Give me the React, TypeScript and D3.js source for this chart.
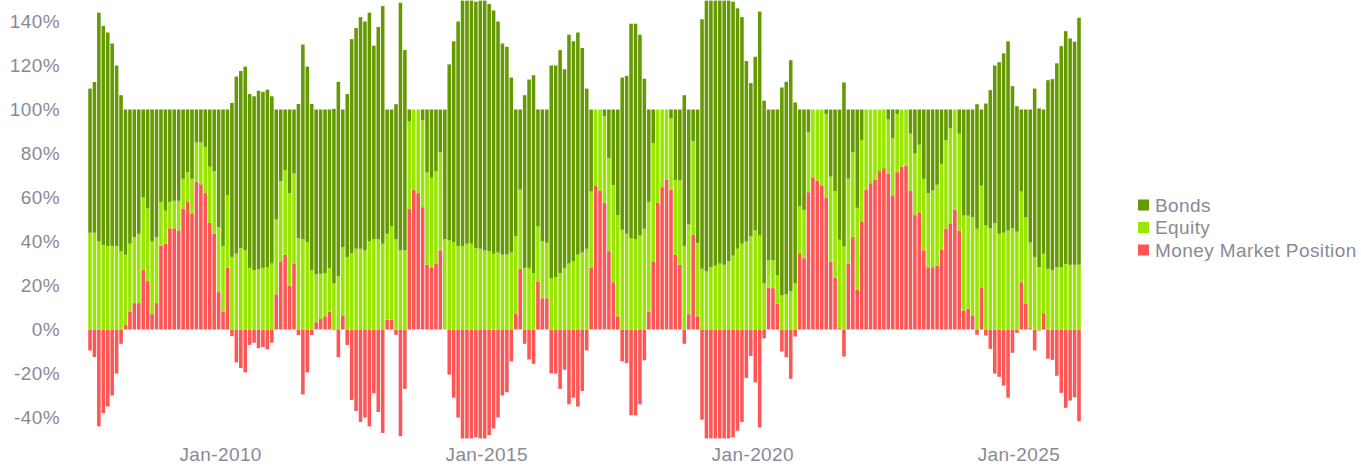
import React, { useEffect, useRef } from 'react';
import * as d3 from 'd3';

// monthly allocation, first bar = Aug-2007
const firstMonth = new Date(2007, 7, 1);

const moneyMarket = [
  -9.5, -12.5, -44, -38, -35, -30, -20, -6.5, 2, 8, 12, 12, 27, 22, 7, 12, 38, 39, 46, 46,
  45, 55, 58, 52.5, 67, 66, 62, 48.5, 43.5, 17, 8, 28, -3, -15, -17.5, -19.5, -7, -6, -8.5, -8,
  -9, -6, 16, 31, 34, 20, 30, -2.5, -29.5, -19.5, -2.5, 3.3, 4.8, 6, 8, -0.3, -12.6, 6.4, -7, -32,
  -37, -42, -40, -44, -29, -37.5, -47, 4.5, 4.5, -2.4, -48.5, -27, 55, 63.5, 62, 55.6, 29.4, 28.3, 30, 36,
  0, -20.5, -31, -40, -49.5, -49.5, -49.5, -49, -49.5, -49.5, -48, -45, -40, -30, -28.5, -14.5, 7, 27.6, -6.5, -13.6,
  -15.6, 21.8, 14.2, 14.2, -20, -20, -27, -18.3, -34, -31, -35, -28, -9.5, 28, 65.5, 63, 57.6, 35.6, 21.5, 6,
  -14.5, -15.3, -39, -39, -34, -14, 8, 31, 57.6, 64.7, 68, 63.6, 34, 29.4, -6.5, 7, 43, 6, -41, -49.5,
  -49.5, -49.5, -49.5, -49.5, -49.5, -49, -46, -42, -22, -12, -24, -44.5, -4, 19, 18.8, 11.7, -10, -12.6, -22.4, -3.2,
  34.7, 32.4, 62.4, 69.2, 67.7, 65.5, 59.8, 30.9, 23.5, 0.6, -12.3, 29.8, 42, 18, 49.2, 63.5, 66.5, 68, 72, 73.3,
  70.8, 61, 71.5, 74, 74.5, 63, 52, 53.3, 36, 28.3, 28.3, 29, 36.4, 45.8, 48.3, 54.4, 45, 8.6, 9.4, 6.4,
  -2.4, 19.2, -2.7, -8.8, -20, -21.5, -25.5, -31, -10.6, -1.5, 21.5, 11.7, 0.6, -9.5, -0.5, 7.4, -13.3, -13.8, -21, -28.8,
  -35.6, -32.3, -30.8, -41.7,
];

const equity = [
  44, 44, 40, 38.5, 38, 38, 38, 35.5, 32, 31, 30, 31.5, 33, 33, 33, 30, 20, 15, 12, 12.5,
  13.5, 13.5, 13.5, 16, 18, 19, 21, 25.5, 28.5, 29.5, 30, 33, 33, 34.5, 37, 36, 28, 27, 27.5, 28,
  28.3, 30, 34, 36.5, 38.5, 42, 41, 41.5, 41, 39.7, 27, 21.7, 20.5, 19.6, 20, 21, 24.2, 31, 33, 34.7,
  36.7, 36.7, 36, 40, 41, 41, 39, 39, 42.5, 41, 36, 36, 39.5, 36.5, 38, 39.4, 42, 40.7, 42, 44.6,
  41, 40.5, 39.7, 38, 38, 39, 39, 37, 36.7, 36, 35.6, 34.4, 35, 34, 34, 35, 35.4, 36, 28, 28,
  25.6, 25.2, 25.8, 25.2, 23.3, 23.8, 25.6, 28, 30, 31, 34, 35, 36.7, 34.7, 34.5, 37, 39.4, 42.4, 44.2, 46,
  45.3, 43.5, 41.5, 41, 42.7, 45.8, 50, 53.7, 42.4, 35.3, 32, 32.4, 34, 38.3, 38, 40.7, 42.6, 33.4, 27.6, 26.5,
  28.3, 29, 30, 29.4, 31, 33.6, 36.7, 39, 40, 42.3, 45, 42.7, 21, 12.6, 12.6, 13, 15.5, 16, 17.4, 21,
  21.3, 22, 27.3, 30.8, 32.3, 34.5, 38.2, 38.6, 39.4, 40.2, 37.7, 38.7, 38.6, 37.3, 37, 36.5, 33.5, 32, 28, 26.7,
  24.7, 26, 26.5, 26, 25.5, 26, 28, 30.7, 32.5, 33.7, 34.9, 36.8, 38.9, 40.2, 43.2, 45.6, 44, 43.2, 42.4, 44.7,
  45.8, 46.2, 47.3, 46, 48.3, 43.5, 44, 45, 46, 44.5, 41.2, 39.3, 39, 33, 28.3, 27, 27.6, 27, 28.3, 28.3,
  29.8, 29.4, 29.4, 29.5,
];

const bonds = [
  65.5, 68.5, 104, 99.5, 97, 92, 82, 71, 66, 61, 58, 56.5, 40, 45, 60, 58, 42, 46, 42, 41.5,
  41.5, 31.5, 28.5, 31.5, 15, 15, 17, 26, 28, 53.5, 62, 39, 70, 80.5, 80.5, 83.5, 79, 79, 81, 80,
  80.7, 76, 50, 32.5, 27.5, 38, 29, 61, 88.5, 79.8, 75.5, 75, 74.7, 74.4, 72, 79.3, 88.4, 62.6, 74, 97.3,
  100.3, 105.3, 104, 104, 88, 96.5, 108, 56.5, 53, 61.4, 112.5, 91, 5.5, 0, 0, 5, 28.6, 31, 28, 19.4,
  59, 80, 91.3, 102, 111.5, 110.5, 110.5, 112, 112.8, 113.5, 112.4, 110.6, 105, 96, 94.5, 79.5, 57.6, 36.4, 78.5, 85.6,
  90, 53, 60, 60.6, 96.7, 96.2, 101.4, 90.3, 104, 100, 101, 93, 72.8, 37.3, 0, 0, 3, 22, 34.3, 48,
  69.2, 71.8, 97.5, 98, 91.3, 68.2, 42, 15.3, 0, 0, 0, 4, 32, 32.3, 68.5, 52.3, 14.4, 60.6, 113.4, 123,
  121.2, 120.5, 119.5, 120.1, 118.5, 115.4, 109.3, 103, 82, 69.7, 79, 101.8, 83, 68.4, 68.6, 75.3, 94.5, 96.6, 105, 82.2,
  44, 45.6, 10.3, 0, 0, 0, 2, 30.5, 37.1, 59.2, 74.6, 31.5, 19.4, 44.7, 13.8, 0, 0, 0, 0, 0,
  4.5, 13, 2, 0, 0, 11, 20, 16, 31.5, 38, 36.8, 34.2, 24.7, 14, 8.5, 0, 11, 48.2, 48.2, 48.9,
  56.6, 34.6, 55.4, 62.8, 71.7, 78, 81.5, 86, 64.6, 57, 37.3, 49, 60.4, 76.5, 72.2, 65.6, 85.7, 86.8, 92.7, 100.5,
  105.8, 102.9, 101.4, 112.2,
];

const yTicks = [-40, -20, 0, 20, 40, 60, 80, 100, 120, 140];
const xTickLabels = ['Jan-2010', 'Jan-2015', 'Jan-2020', 'Jan-2025'];
const stackKeys = ['money', 'equity', 'bonds'];
const legendItems = [
  { key: 'bonds', label: 'Bonds' },
  { key: 'equity', label: 'Equity' },
  { key: 'money', label: 'Money Market Position' },
];
const colors = { bonds: '#649900', equity: '#99e600', money: '#ff5555' };

const W = 1361;
const H = 466;
const textColor = '#8a8a96';
const font = '"Liberation Sans", Arial, sans-serif';

const App = () => {
  const svgRef = useRef(null);

  useEffect(() => {
    const svg = d3.select(svgRef.current);
    svg.selectAll('*').remove();

    const fmt = d3.timeFormat('%b-%Y');
    const rows = moneyMarket.map((m, i) => ({
      label: fmt(d3.timeMonth.offset(firstMonth, i)),
      money: m,
      equity: equity[i],
      bonds: bonds[i],
    }));

    const x = d3.scaleBand()
      .domain(rows.map(d => d.label))
      .range([88, 1081])
      .paddingInner(0.2)
      .paddingOuter(0.05);

    const y = d3.scaleLinear().domain([-50, 150]).range([439.5, -0.5]);

    const series = d3.stack()
      .keys(stackKeys)
      .offset(d3.stackOffsetDiverging)(rows);

    svg.append('g')
      .selectAll('g')
      .data(series)
      .join('g')
      .attr('fill', s => colors[s.key])
      .selectAll('rect')
      .data(s => s)
      .join('rect')
      .attr('x', d => x(d.data.label))
      .attr('width', x.bandwidth())
      .attr('y', d => y(Math.max(d[0], d[1])))
      .attr('height', d => Math.abs(y(d[0]) - y(d[1])));

    const textStyle = sel => sel
      .attr('fill', textColor)
      .style('font-family', font)
      .style('font-size', '19px')
      .style('letter-spacing', '0.4px');

    // y axis: labels only, no line
    svg.append('g')
      .selectAll('text')
      .data(yTicks)
      .join('text')
      .attr('x', 60)
      .attr('y', d => y(d))
      .attr('dy', '0.35em')
      .attr('text-anchor', 'end')
      .call(textStyle)
      .text(d => `${d}%`);

    // x axis labels
    svg.append('g')
      .selectAll('text')
      .data(xTickLabels)
      .join('text')
      .attr('x', d => x(d) + x.bandwidth() / 2 + 2)
      .attr('y', 461)
      .attr('text-anchor', 'middle')
      .call(textStyle)
      .text(d => d);

    // legend
    const legend = svg.append('g')
      .selectAll('g')
      .data(legendItems)
      .join('g')
      .attr('transform', (d, i) => `translate(1138,${205 + i * 22.5})`);

    legend.append('rect')
      .attr('x', 0)
      .attr('y', -5.5)
      .attr('width', 11)
      .attr('height', 11)
      .attr('fill', d => colors[d.key]);

    legend.append('text')
      .attr('x', 17)
      .attr('dy', '0.35em')
      .call(textStyle)
      .text(d => d.label);
  }, []);

  return (
    <svg
      ref={svgRef}
      width={W}
      height={H}
      style={{ position: 'absolute', left: 0, top: 0, background: '#fff' }}
    />
  );
};

export default App;
